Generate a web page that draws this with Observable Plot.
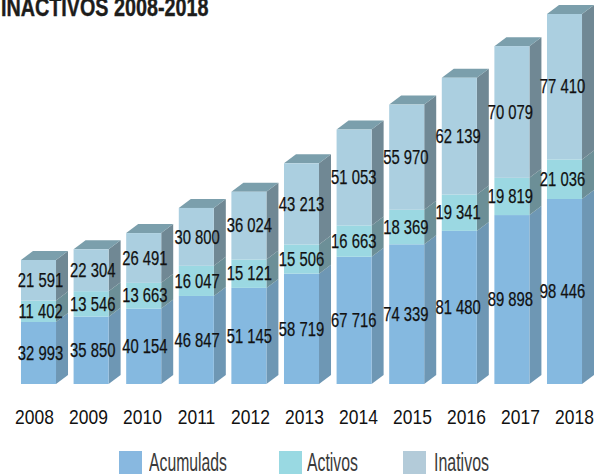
<!DOCTYPE html>
<html><head><meta charset="utf-8">
<script src="https://cdn.jsdelivr.net/npm/d3@7"></script>
<script src="https://cdn.jsdelivr.net/npm/@observablehq/plot@0.6"></script>
<style>
html,body{margin:0;padding:0;background:#fff;width:594px;height:476px;overflow:hidden;position:relative}
body,svg{font-family:"Liberation Sans",sans-serif}
#title{position:absolute;left:1px;top:-5px;font-weight:700;font-size:25px;line-height:25px;color:#1d1d1b;white-space:nowrap;z-index:2;transform:scaleX(.79);transform-origin:0 0;-webkit-text-stroke:.4px #1d1d1b}
#legend{position:absolute;left:0;top:451px;width:594px;height:23px;font-size:25px;line-height:23px;color:#3a3a3a}
#legend span{position:absolute;top:0;white-space:nowrap;transform-origin:0 0}
#legend i{position:absolute;top:0;width:23px;height:23px}
</style></head><body>
<div id="title">INACTIVOS 2008-2018</div>
<div id="chart"></div>
<div id="legend"></div>
<script>
const years = [2008,2009,2010,2011,2012,2013,2014,2015,2016,2017,2018];
const acumulados = [32993,35850,40154,46847,51145,58719,67716,74339,81480,89898,98446];
const activos = [11402,13546,13663,16047,15121,15506,16663,18369,19341,19819,21036];
const inativos = [21591,22304,26491,30800,36024,43213,51053,55970,62139,70079,77410];
const seriesNames = ["Acumulados","Activos","Inativos"];
const legendNames = ["Acumulads","Activos","Inativos"];
const seriesValues = [acumulados,activos,inativos];
const frontColors = ["#85b9e0","#9bd8e2","#abcfe0"];
const legendColors = ["#88b8e0","#99d9e2","#b3cbd9"];
const sideColors = ["#6e97b4","#6c8f97","#708894"];
const topColor = "#7b9fac";
const fmt = v => String(v).replace(/\B(?=(\d{3})+$)/g," ");

const rows = years.flatMap((year,i)=>{
  let base = 0;
  return seriesNames.map((s,k)=>{
    const v = seriesValues[k][i], r = {year,series:s,k,value:v,y1:base,y2:base+v,mid:base+v/2,last:k===2};
    base += v;
    return r;
  });
});

const depthX = 12, depthY = 9;
function extrude(index, scales, values, dims, ctx, next){
  const g = d3.create("svg:g");
  const X1=values.x1, X2=values.x2, Y1=values.y1, Y2=values.y2;
  for(const i of index){
    const d = rows[i];
    const x2=X2[i], y1=Y1[i], y2=Y2[i], x1=X1[i];
    g.append("polygon").attr("fill",sideColors[d.k])
      .attr("points",[[x2,y1],[x2+depthX,y1-depthY],[x2+depthX,y2-depthY],[x2,y2]].join(" "));
    if(d.last) g.append("polygon").attr("fill",topColor)
      .attr("points",[[x1,y2],[x1+depthX,y2-depthY],[x2+depthX,y2-depthY],[x2,y2]].join(" "));
  }
  g.append(()=>next(index,scales,values,dims,ctx));
  return g.node();
}

const tickStretch = 54/52.6, tickShift = -4.5/52.6;
const valStretch = 52.2/52.6, valShift = 1.5/52.6;
const chart = Plot.plot({
  width:594,height:436,
  marginTop:14,marginBottom:52,marginLeft:0,marginRight:0,
  x:{domain:[2008-38.5/52.6,2008+(594-38.5)/52.6],range:[0,594],axis:null},
  y:{domain:[0,196892],axis:null},
  color:{domain:seriesNames,range:frontColors},
  marks:[
    Plot.rect(rows,{x1:d=>d.year-0.333,x2:d=>d.year+0.333,y1:"y1",y2:"y2",fill:"series",render:extrude}),
    Plot.text(rows,{x:d=>2008+(d.year-2008)*valStretch+valShift,y:"mid",text:d=>fmt(d.value),fontSize:19.5,fill:"#111",stroke:"#111",strokeWidth:0.25,className:"vals"}),
    Plot.text(years,{x:d=>2008+(d-2008)*tickStretch+tickShift,y:()=>0,text:d=>String(d),dy:33,fontSize:21,fill:"#111",className:"ticks"})
  ]
});
document.getElementById("chart").append(chart);

const squeeze=(sel,ratio)=>chart.querySelectorAll(sel).forEach(t=>{
  t.setAttribute("textLength",t.getComputedTextLength()*ratio);
  t.setAttribute("lengthAdjust","spacingAndGlyphs");
});
squeeze(".vals text",0.76);
squeeze(".ticks text",0.83);

const swatchLeft=[119,279,403], textLeft=[149,307,434], textWidth=[78,51,55];
const lg=document.getElementById("legend");
legendNames.forEach((s,k)=>{
  const sw=document.createElement("i");sw.style.left=swatchLeft[k]+"px";sw.style.background=legendColors[k];lg.append(sw);
  const t=document.createElement("span");t.style.left=textLeft[k]+"px";t.textContent=s;lg.append(t);
  t.style.transform=`scaleX(${textWidth[k]/t.getBoundingClientRect().width})`;
});
</script></body></html>
